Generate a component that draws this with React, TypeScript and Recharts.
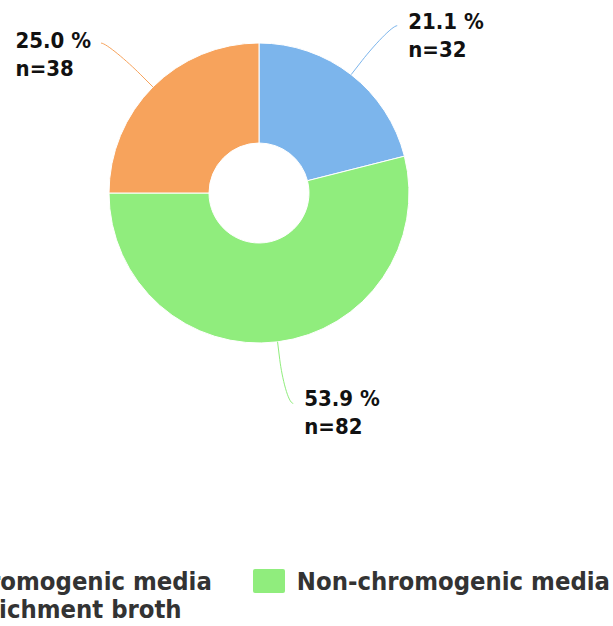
import { Legend, Pie, PieChart } from "recharts";

const categories = ["Chromogenic media", "Non-chromogenic media", "Chromogenic media\nenrichment broth"];
const counts = [32, 82, 38];
const percentLabels = ["21.1 %", "53.9 %", "25.0 %"];
const colors = ["#7cb5ec", "#90ed7d", "#f7a35c"];
// legend shows items in a different order than the slices
const legendOrder = [0, 2, 1];

const data = categories.map((name, i) => ({ name, value: counts[i], fill: colors[i] }));

const FONT = "'DejaVu Sans Condensed', 'DejaVu Sans', sans-serif";
const LABEL_SIZE = 22;
const RAD = Math.PI / 180;

let ctx: CanvasRenderingContext2D | null = null;
function textWidth(s: string) {
  if (!ctx) ctx = document.createElement("canvas").getContext("2d");
  if (!ctx) return s.length * LABEL_SIZE * 0.6;
  ctx.font = `bold ${LABEL_SIZE}px ${FONT}`;
  return ctx.measureText(s).width;
}

function renderLabel(props: any) {
  const { cx, cy, midAngle, outerRadius, index } = props;
  const cos = Math.cos(midAngle * RAD);
  const sin = Math.sin(midAngle * RAD);
  const right = cos >= 0;
  const tx = cx + outerRadius * cos;
  const ty = cy - outerRadius * sin;
  const bx = cx + (outerRadius + 18) * cos;
  const by = cy - (outerRadius + 18) * sin;
  const ax = cx + (outerRadius + 62) * cos + (right ? 8 : -8);
  const ay = cy - (outerRadius + 62) * sin;
  const path = `M ${ax} ${ay} C ${ax + (right ? -5 : 5)} ${ay} ${2 * bx - tx} ${2 * by - ty} ${bx} ${by} L ${tx} ${ty}`;
  const line1 = percentLabels[index];
  const line2 = `n=${counts[index]}`;
  const blockW = Math.max(textWidth(line1), textWidth(line2));
  const x = right ? ax + 11 : ax - 10 - blockW;
  const y = ay + (right ? 3 : 5);
  return (
    <g>
      <path d={path} stroke={colors[index]} strokeWidth={1} fill="none" />
      <text x={x} y={y} fontFamily={FONT} fontWeight="bold" fontSize={LABEL_SIZE} fill="#111">
        {line1}
      </text>
      <text x={x} y={y + 28} fontFamily={FONT} fontWeight="bold" fontSize={LABEL_SIZE} fill="#111">
        {line2}
      </text>
    </g>
  );
}

function LegendContent() {
  return (
    <div style={{ display: "flex", justifyContent: "flex-end", alignItems: "flex-start", fontFamily: FONT, fontWeight: "bold", fontSize: 25.4, color: "#333", lineHeight: "28px" }}>
      {legendOrder.map((i) => (
        <div key={i} style={{ display: "flex", alignItems: "flex-start", marginLeft: 41, flexShrink: 0 }}>
          <div style={{ width: 32, height: 24, background: colors[i], marginTop: 2, marginRight: 12, borderRadius: 2, flexShrink: 0 }} />
          <div style={{ whiteSpace: "pre", textAlign: "left" }}>{categories[i]}</div>
        </div>
      ))}
    </div>
  );
}

export default function App() {
  return (
    <div style={{ position: "absolute", left: 0, top: 0, width: 613, height: 626, overflow: "hidden", background: "#fff" }}>
      <PieChart width={613} height={626} margin={{ top: 0, right: 0, bottom: 0, left: 0 }}>
        <Pie
          data={data}
          dataKey="value"
          nameKey="name"
          cx={259}
          cy={193}
          outerRadius={150}
          innerRadius={50}
          startAngle={90}
          endAngle={-270}
          stroke="#ffffff"
          strokeWidth={1}
          label={renderLabel}
          labelLine={false}
          isAnimationActive={false}
        />
        <Legend content={<LegendContent />} wrapperStyle={{ position: "absolute", left: 0, top: 567, width: 610 }} />
      </PieChart>
    </div>
  );
}
